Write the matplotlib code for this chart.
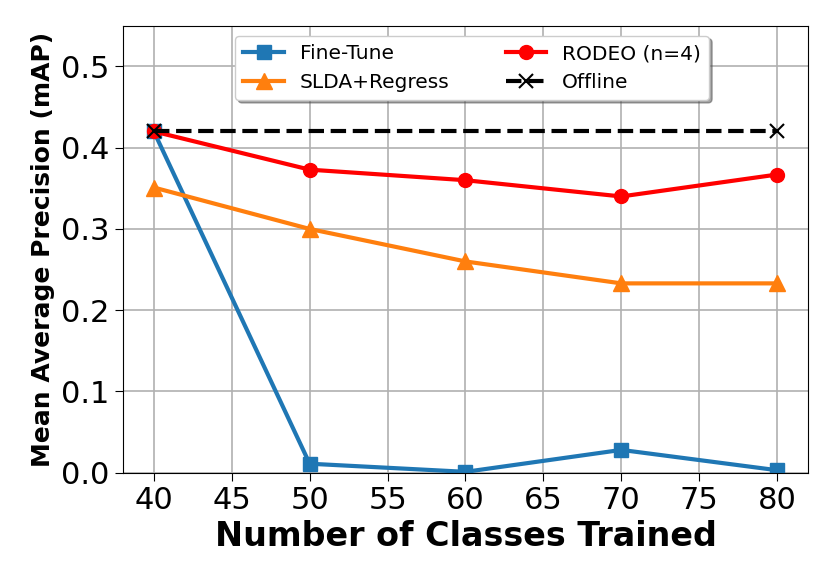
import matplotlib.pyplot as plt

classes = [40, 50, 60, 70, 80]
fine_tune = [0.420, 0.011, 0.001, 0.028, 0.003]
slda_regress = [0.351, 0.300, 0.260, 0.233, 0.233]
rodeo = [0.420, 0.373, 0.360, 0.340, 0.367]
offline_x = [40, 80]
offline = [0.420, 0.420]

fig, ax = plt.subplots(figsize=(8.29, 5.75), dpi=100)

ax.plot(classes, fine_tune, color="#1f77b4", marker="s", lw=3, ms=10, label="Fine-Tune")
ax.plot(classes, slda_regress, color="#ff7f0e", marker="^", lw=3, ms=11, label="SLDA+Regress")
ax.plot(classes, rodeo, color="red", marker="o", lw=3, ms=10, label="RODEO (n=4)")
ax.plot(offline_x, offline, color="black", marker="x", ls="--", lw=3, ms=10, mew=1.5, label="Offline")

ax.set_ylim(0, 0.55)
ax.set_yticks([0.0, 0.1, 0.2, 0.3, 0.4, 0.5])
ax.set_xticks([40, 45, 50, 55, 60, 65, 70, 75, 80])
ax.tick_params(labelsize=22, length=6)
ax.grid(True, color="#b0b0b0", lw=1.2)
ax.set_axisbelow(True)

ax.set_xlabel("Number of Classes Trained", fontsize=24, fontweight="bold")
ax.set_ylabel("Mean Average Precision (mAP)", fontsize=18, fontweight="bold")

ax.legend(loc="upper center", ncol=2, fontsize=14.5, shadow=True, framealpha=1,
          bbox_to_anchor=(0.51, 1.0), columnspacing=2.8)

plt.subplots_adjust(left=0.148, right=0.975, top=0.955, bottom=0.178)
plt.savefig("out.png")
